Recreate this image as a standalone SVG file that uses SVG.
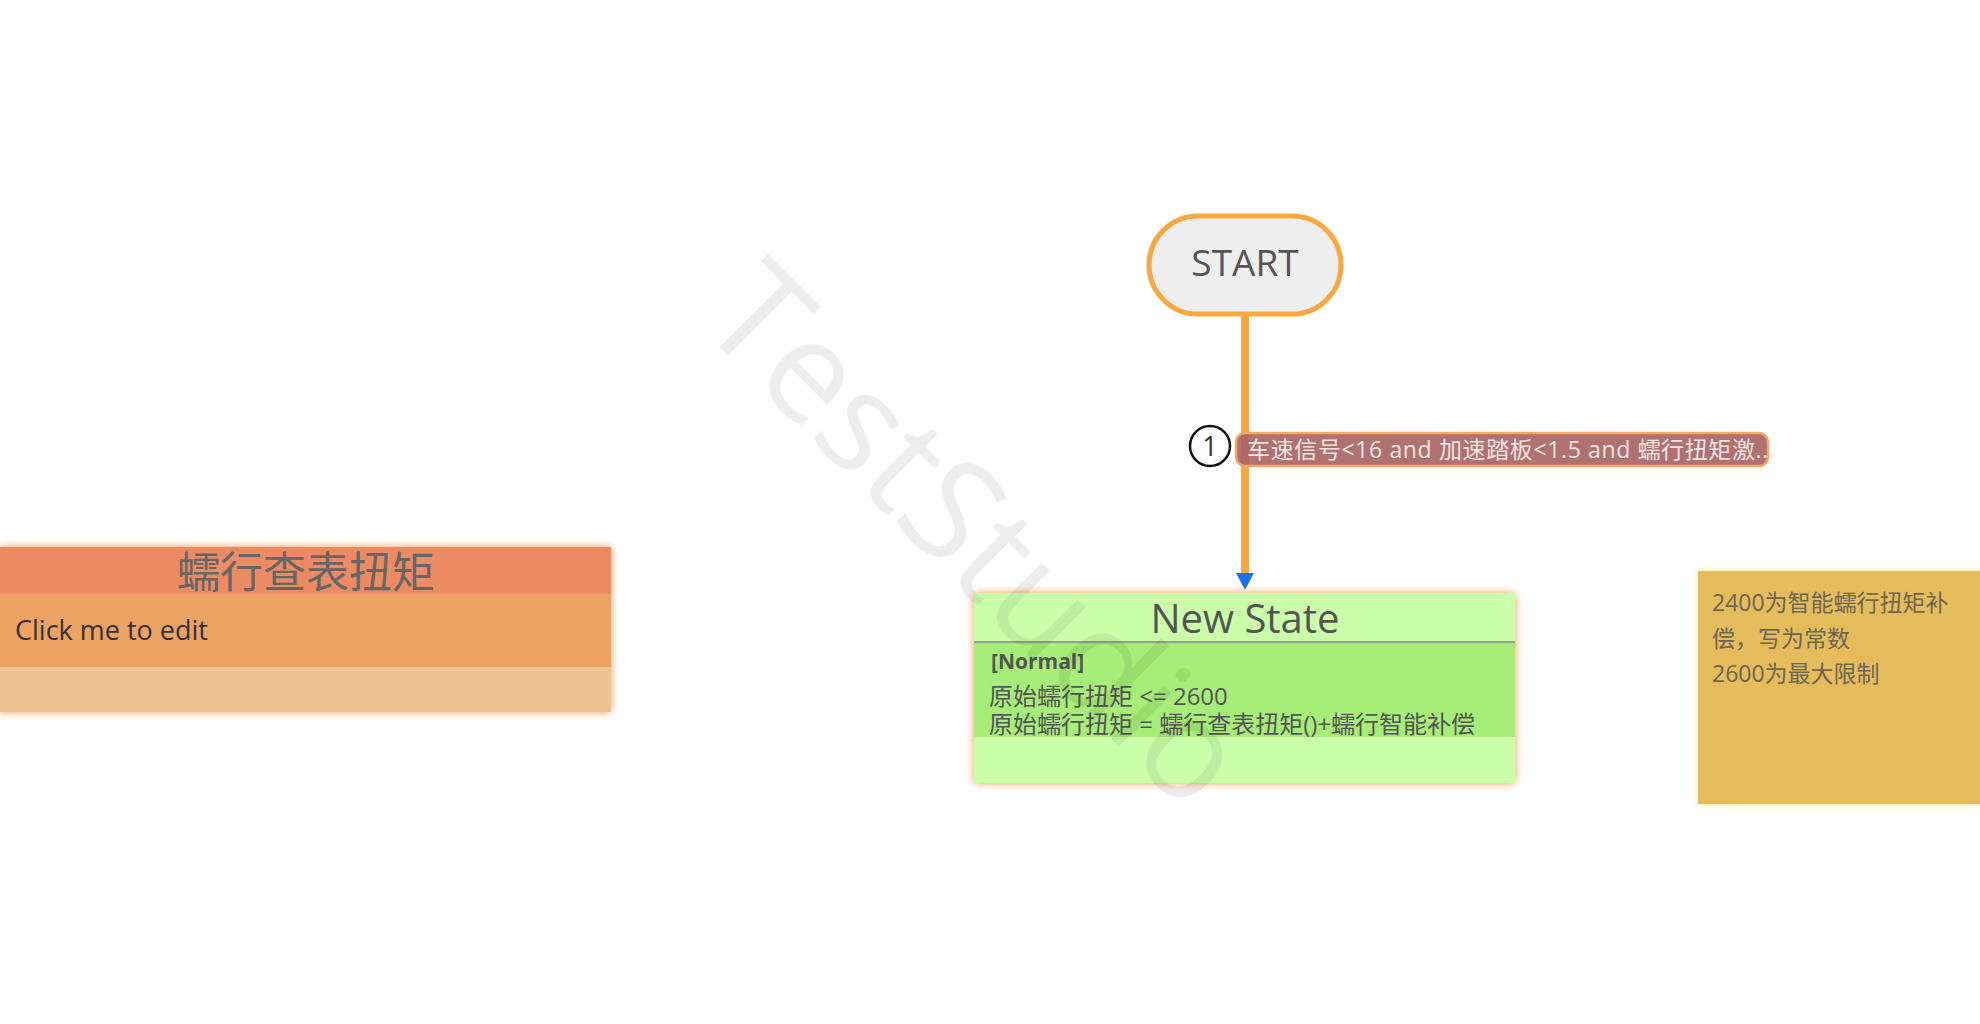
<svg xmlns="http://www.w3.org/2000/svg" width="1980" height="1024" viewBox="0 0 1980 1024">
<style>
  text { font-family: "Open Sans", "Noto Sans CJK SC", sans-serif; }
  .t-gray { fill: #666666; }
  .t-dark { fill: #555555; }
</style>
<defs>
  <filter id="glowOrange" x="-10%" y="-20%" width="120%" height="140%">
    <feDropShadow dx="0" dy="0" stdDeviation="4" flood-color="#f09a50" flood-opacity="1"/>
  </filter>
  <filter id="glowYellow" x="-10%" y="-20%" width="120%" height="140%">
    <feDropShadow dx="0" dy="0" stdDeviation="5" flood-color="#fff0a0" flood-opacity="1"/>
  </filter>
</defs>
<rect width="1980" height="1024" fill="#ffffff"/>

<g id="connectors">
  <line x1="1245" y1="316" x2="1245" y2="575" stroke="#fba73f" stroke-width="8"/>
  <path d="M1236,573 L1254,573 L1245,590 Z" fill="#1a73e8"/>
  <g id="label-1">
    <circle cx="1210" cy="446" r="20" fill="#ffffff" stroke="#111111" stroke-width="2.5"/>
    <text x="1210" y="456" font-size="27" text-anchor="middle" fill="#333333">1</text>
    <rect x="1236" y="433" width="532" height="33" rx="9" fill="#a96565" fill-opacity="0.92" stroke="#f3a868" stroke-width="2.5"/>
    <text x="1247" y="458" font-size="23" fill="#f3e3e3" textLength="528" lengthAdjust="spacing">车速信号&lt;16 and 加速踏板&lt;1.5 and 蠕行扭矩激...</text>
  </g>
</g>

<g id="start">
  <rect x="1149" y="216" width="192" height="98" rx="49" fill="#eeeeee" stroke="#fba73f" stroke-width="5"/>
  <text x="1245" y="276" font-size="37" text-anchor="middle" class="t-dark">START</text>
</g>

<g id="new-state">
  <g filter="url(#glowOrange)">
    <rect x="974" y="593" width="541" height="190" fill="#ccffaa"/>
  </g>
  <rect x="974" y="643" width="541" height="94" fill="#a6ee77"/>
  <line x1="974" y1="642" x2="1515" y2="642" stroke="#999999" stroke-width="2"/>
  <text x="1245" y="633" font-size="40" text-anchor="middle" class="t-dark">New State</text>
  <text x="991" y="669" font-size="21" font-weight="bold" class="t-dark">[Normal]</text>
  <text x="989" y="705" font-size="24" class="t-dark">原始蠕行扭矩 &lt;= 2600</text>
  <text x="989" y="733" font-size="24" class="t-dark">原始蠕行扭矩 = 蠕行查表扭矩()+蠕行智能补偿</text>
</g>

<g id="lookup-torque">
  <g filter="url(#glowOrange)">
    <rect x="0" y="547" width="611" height="165" fill="#edc392"/>
  </g>
  <rect x="0" y="547" width="611" height="47" fill="#ec8b63"/>
  <rect x="0" y="594" width="611" height="73" fill="#eca263"/>
  <text x="306" y="588" font-size="43" text-anchor="middle" class="t-gray">蠕行查表扭矩</text>
  <text x="15" y="640" font-size="27" fill="#333333">Click me to edit</text>
</g>

<g id="note">
  <g filter="url(#glowYellow)">
    <rect x="1698" y="571" width="290" height="233" fill="#e4bc5c"/>
  </g>
  <text x="1712" y="611" font-size="23" fill="#6f6550">2400为智能蠕行扭矩补</text>
  <text x="1712" y="647" font-size="23" fill="#6f6550">偿，写为常数</text>
  <text x="1712" y="682" font-size="23" fill="#6f6550">2600为最大限制</text>
</g>

<g id="watermark">
  <text transform="translate(696,324) rotate(45)" font-size="141" fill="#000000" fill-opacity="0.07">TestStudio</text>
</g>
</svg>
